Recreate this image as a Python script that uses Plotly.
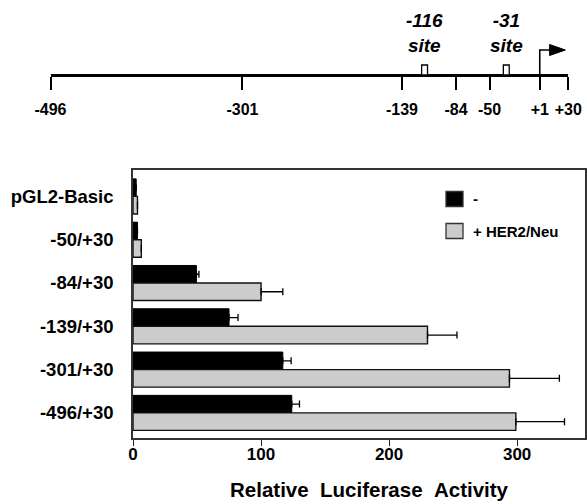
import plotly.graph_objects as go

# ---- data ----
constructs = ["pGL2-Basic", "-50/+30", "-84/+30", "-139/+30", "-301/+30", "-496/+30"]
series_names = ["-", "+ HER2/Neu"]
basal = [2.5, 3.5, 49.5, 75, 117, 124]
basal_err = [0, 0, 2, 7, 6.5, 6]
her2 = [3.5, 6.5, 100, 230, 294, 299]
her2_err = [0, 0, 17, 23, 39, 38]
x_ticks = [0, 100, 200, 300]
x_title = "Relative\u00a0\u00a0Luciferase\u00a0\u00a0Activity"

map_positions = [-496, -301, -139, -84, -50, 1, 30]
map_labels = ["-496", "-301", "-139", "-84", "-50", "+1", "+30"]
site_positions = [-116, -33]
site_labels = ["-116", "-31"]
tss_position = 1

FONT = "Liberation Sans, Arial, sans-serif"
W, H = 587, 504
ML, MR, MT, MB = 40, 2, 10, 66
PW, PH = W - ML - MR, H - MT - MB

def px_x(p):
    return (p - ML) / PW

def px_y(p):
    return (H - MB - p) / PH

MAP_Y = 75          # pixel row of the map line
Y2_SCALE = MAP_Y - MT  # px per y2 unit

def y2(p):
    return (MAP_Y - p) / Y2_SCALE

fig = go.Figure()

fig.add_trace(go.Bar(
    y=constructs, x=basal, orientation="h", name=series_names[0],
    marker=dict(color="black", line=dict(color="black", width=1)),
    error_x=dict(type="data", array=basal_err, arrayminus=[0] * len(basal_err),
                 symmetric=False, color="black", thickness=1.3, width=3.5),
    showlegend=False,
))
fig.add_trace(go.Bar(
    y=constructs, x=her2, orientation="h", name=series_names[1],
    marker=dict(color="#cccccc", line=dict(color="#111", width=1.4)),
    error_x=dict(type="data", array=her2_err, arrayminus=[0] * len(her2_err),
                 symmetric=False, color="black", thickness=1.3, width=3.5),
    showlegend=False,
))

fig.add_trace(go.Scatter(x=[map_positions[0], map_positions[-1]], y=[0, 0],
                         mode="lines", line=dict(color="black", width=2.2),
                         xaxis="x2", yaxis="y2", showlegend=False, hoverinfo="skip"))

fig.update_layout(
    width=W, height=H,
    margin=dict(l=ML, r=MR, t=MT, b=MB),
    paper_bgcolor="white", plot_bgcolor="white",
    barmode="group", bargap=0.19, bargroupgap=0,
    font=dict(family=FONT, color="black"),
    xaxis=dict(
        domain=[px_x(133), px_x(585)], range=[0, 353], anchor="y",
        tickvals=x_ticks, ticks="outside", ticklen=6, tickwidth=1.4, tickcolor="#222",
        showline=True, linecolor="#333", linewidth=1.6, mirror=True,
        showgrid=False, zeroline=False, automargin=False, ticklabelstandoff=-6,
        tickfont=dict(size=17, family=FONT, weight="bold"),
    ),
    yaxis=dict(
        domain=[0, px_y(170)], type="category", categoryorder="array",
        categoryarray=constructs, range=[5.58, -0.61], anchor="x",
        showline=True, linecolor="#333", linewidth=1.6, mirror=True,
        ticks="", showgrid=False, zeroline=False, ticklabelstandoff=14,
        automargin=False,
        tickfont=dict(size=18.5, family=FONT, weight="bold"),
    ),
    xaxis2=dict(
        domain=[px_x(50.5), px_x(568.3)], range=[map_positions[0], map_positions[-1]],
        anchor="y2", tickvals=map_positions, ticktext=map_labels,
        ticks="outside", ticklen=13, tickwidth=1.6, tickcolor="black",
        showline=True, linecolor="black", linewidth=2.2,
        showgrid=False, zeroline=False, ticklabelstandoff=6, automargin=False,
        tickfont=dict(size=16, family=FONT, weight="bold"),
    ),
    yaxis2=dict(domain=[px_y(MAP_Y), 1], range=[0, 1], visible=False, anchor="x2"),
)

# x-axis title
fig.add_annotation(xref="paper", yref="paper", x=px_x(369), y=px_y(503),
                   text=x_title, showarrow=False, xanchor="center", yanchor="bottom",
                   font=dict(size=20.5, family=FONT, weight="bold"))

# site boxes and labels
for pos, lab in zip(site_positions, site_labels):
    fig.add_shape(type="rect", xref="x2", yref="y2", x0=pos - 3, x1=pos + 3,
                  y0=0, y1=10 / Y2_SCALE, line=dict(color="black", width=1.3),
                  fillcolor="white")
    fig.add_annotation(xref="x2", yref="y2", x=pos, y=y2(33),
                       text=f"<i>{lab}</i><br><i>site</i>", showarrow=False,
                       font=dict(size=19, family=FONT, weight="bold"),
                       xanchor="center", yanchor="middle")

# transcription start arrow
fig.add_shape(type="path", xref="x2", yref="y2",
              path=f"M {tss_position},0 L {tss_position},{y2(50)} L 12,{y2(50)}",
              line=dict(color="black", width=1.6))
fig.add_shape(type="path", xref="x2", yref="y2",
              path=f"M 11,{y2(44.5)} L 27,{y2(50)} L 11,{y2(55.5)} Z",
              line=dict(color="black", width=1), fillcolor="black")

# legend (manual)
leg_colors = ["black", "#cccccc"]
leg_y = [199, 231]
for name, col, yc in zip(series_names, leg_colors, leg_y):
    fig.add_shape(type="rect", xref="paper", yref="paper",
                  x0=px_x(446), x1=px_x(463), y0=px_y(yc + 7.5), y1=px_y(yc - 7.5),
                  line=dict(color="#333", width=1.3), fillcolor=col)
    fig.add_annotation(xref="paper", yref="paper", x=px_x(471), y=px_y(yc),
                       text=name, showarrow=False, xanchor="left", yanchor="middle",
                       font=dict(size=15, family=FONT, weight="bold"))

fig.write_html(
    "out.html",
    config={"displayModeBar": False},
    post_script="document.body.style.margin='0';document.body.style.overflow='hidden';"
                "document.documentElement.style.overflow='hidden';",
)
